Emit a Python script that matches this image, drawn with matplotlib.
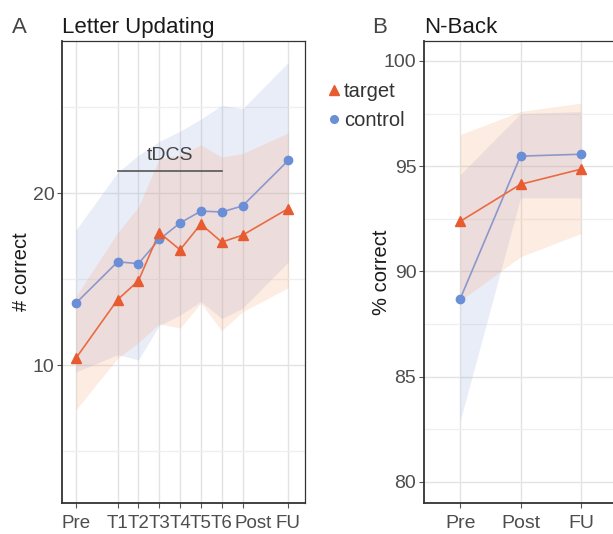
import matplotlib
matplotlib.use("Agg")
import matplotlib.pyplot as plt
from matplotlib.lines import Line2D
from matplotlib.transforms import ScaledTranslation

plt.rcParams['font.family'] = ['Liberation Sans', 'DejaVu Sans']

# ---------------- data ----------------
a_labels = ["Pre", "T1", "T2", "T3", "T4", "T5", "T6", "Post", "FU"]
a_x = [0, 2, 3, 4, 5, 6, 7, 8, 10.2]
a_target = [10.4, 13.8, 14.9, 17.7, 16.7, 18.2, 17.15, 17.55, 19.1]
a_target_lo = [7.4, 10.4, 11.3, 12.4, 12.15, 13.6, 12.0, 13.1, 14.5]
a_target_hi = [14.0, 17.7, 19.2, 22.0, 22.2, 22.8, 22.1, 22.3, 23.5]
a_control = [13.6, 16.0, 15.9, 17.3, 18.26, 18.95, 18.9, 19.25, 21.9]
a_control_lo = [9.6, 10.6, 10.3, 12.3, 12.9, 13.7, 12.7, 13.3, 16.0]
a_control_hi = [17.85, 21.2, 22.2, 23.0, 23.6, 24.3, 25.1, 24.9, 27.6]

b_labels = ["Pre", "Post", "FU"]
b_x = [1, 2, 3]
b_target = [92.38, 94.14, 94.86]
b_target_lo = [88.6, 90.7, 91.8]
b_target_hi = [96.5, 97.6, 98.0]
b_control = [88.7, 95.48, 95.57]
b_control_lo = [82.9, 93.5, 93.5]
b_control_hi = [94.6, 97.5, 97.6]

tdcs_span = (2, 7)
tdcs_y = 21.3

# ---------------- style ----------------
W, H = 613, 534
C_T = "#E85A30"
C_T_LINE = "#EA6A42"
C_T_FILL = "#F9A070"
C_C = "#6A8FD6"
C_C_LINE = "#8C97CC"
C_C_FILL = "#6C8CD2"
TICK_C = "#4D4D4D"
GRID_MAJ = "#E3E3E3"
GRID_MIN = "#EFEFEF"

fig = plt.figure(figsize=(W / 100, H / 100), dpi=100)

def px_rect(l, r, t, b):
    return [l / W, 1 - b / H, (r - l) / W, (b - t) / H]

axA = fig.add_axes(px_rect(62, 305, 41, 503))
axB = fig.add_axes(px_rect(424, 617, 41, 503))


def style(ax):
    ax.set_facecolor("white")
    for s in ["top", "right"]:
        ax.spines[s].set_color("#333333")
        ax.spines[s].set_linewidth(0.9)
    for s in ["left", "bottom"]:
        ax.spines[s].set_color("#333333")
        ax.spines[s].set_linewidth(1.3)
    ax.tick_params(axis="both", which="major", length=3.5, width=0.8,
                   color="#555555", labelcolor=TICK_C, labelsize=14, pad=2)
    ax.tick_params(axis="x", which="major", pad=5.5)
    ax.tick_params(axis="both", which="minor", length=0)
    ax.grid(True, which="major", color=GRID_MAJ, lw=1.0, zorder=0)
    ax.grid(True, which="minor", axis="y", color=GRID_MIN, lw=0.9, zorder=0)
    ax.set_axisbelow(True)


def draw(ax, x, t, tlo, thi, c, clo, chi):
    ax.fill_between(x, clo, chi, color=C_C_FILL, alpha=0.15, lw=0, zorder=1)
    ax.fill_between(x, tlo, thi, color=C_T_FILL, alpha=0.2, lw=0, zorder=1)
    ax.plot(x, c, color=C_C_LINE, lw=1.2, zorder=3)
    ax.plot(x, c, ls="none", marker="o", ms=6, color=C_C, zorder=4)
    ax.plot(x, t, color=C_T_LINE, lw=1.2, zorder=3)
    ax.plot(x, t, ls="none", marker="^", ms=7, color=C_T, zorder=4)


# Panel A
style(axA)
draw(axA, a_x, a_target, a_target_lo, a_target_hi,
     a_control, a_control_lo, a_control_hi)
axA.set_xlim(-0.67, 11.0)
axA.set_ylim(1.98, 28.84)
axA.set_xticks(a_x)
axA.set_xticklabels(a_labels)
axA.tick_params(axis="x", labelsize=13.5)
# the reference shifts the "Post" label a little to the right
for lab in axA.get_xticklabels():
    if lab.get_text() == "Post":
        lab.set_transform(lab.get_transform() +
                          ScaledTranslation(11 / 100, 0, fig.dpi_scale_trans))
axA.set_yticks([10, 20])
axA.set_yticks([5, 15, 25], minor=True)
axA.set_ylabel("# correct", fontsize=14.5, color="#1a1a1a")
axA.yaxis.set_label_coords(-(62 - 31) / 243, 0.5)
axA.plot(list(tdcs_span), [tdcs_y, tdcs_y], color="#555555", lw=1.2, zorder=5)
axA.text(sum(tdcs_span) / 2, tdcs_y + 0.4, "tDCS", ha="center",
         va="bottom", fontsize=14, color="#444444", zorder=5)

# Panel B
style(axB)
draw(axB, b_x, b_target, b_target_lo, b_target_hi,
     b_control, b_control_lo, b_control_hi)
axB.set_xlim(0.4, 3.6)
axB.set_ylim(79.0, 100.95)
axB.set_xticks(b_x)
axB.set_xticklabels(b_labels)
axB.set_yticks([80, 85, 90, 95, 100])
axB.set_yticks([82.5, 87.5, 92.5, 97.5], minor=True)
axB.set_ylabel("% correct", fontsize=14.5, color="#1a1a1a")
axB.yaxis.set_label_coords(-(424 - 391) / 193, 0.5)

# Titles
fig.text(12 / W, 1 - 33 / H, "A", fontsize=16, color="#444444", va="baseline")
fig.text(62 / W, 1 - 33 / H, "Letter Updating", fontsize=16, color="#1a1a1a", va="baseline")
fig.text(372 / W, 1 - 33 / H, "B", fontsize=16, color="#444444", va="baseline")
fig.text(424 / W, 1 - 33 / H, "N-Back", fontsize=16, color="#1a1a1a", va="baseline")

# Legend
handles = [Line2D([], [], ls="none", marker="^", ms=6.5, color=C_T),
           Line2D([], [], ls="none", marker="o", ms=5.5, color=C_C)]
fig.legend(handles, ["target", "control"], loc="upper left",
           bbox_to_anchor=(328 / W, 1 - 82 / H), frameon=False,
           handlelength=0.6, handletextpad=0.2, labelspacing=0.5,
           borderaxespad=0, borderpad=0, fontsize=14.5,
           labelcolor="#333333")

fig.savefig("out.png", dpi=100)
